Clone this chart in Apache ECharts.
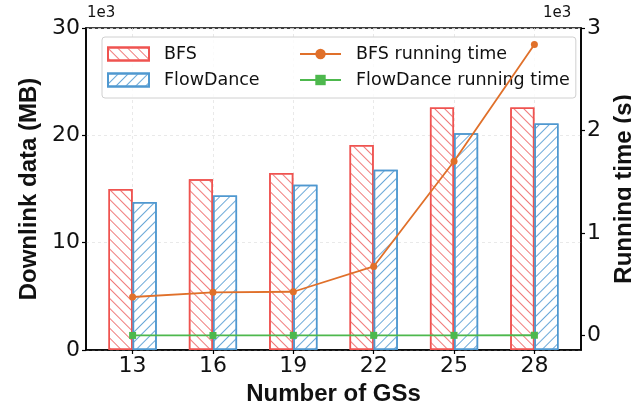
<!DOCTYPE html>
<html>
<head>
<meta charset="utf-8">
<script src="https://cdn.jsdelivr.net/npm/echarts@6/dist/echarts.min.js"></script>
<style>
  html, body { margin: 0; padding: 0; background: #fff; }
  #chart { width: 631px; height: 408px; }
</style>
</head>
<body>
<div id="chart"></div>
<script>
// Number of ground stations on the x axis
const categories = ['13', '16', '19', '22', '25', '28'];
// Downlink data volume (MB)
const bfsData = [15000, 15900, 16500, 19100, 22600, 22600];
const flowDanceData = [13800, 14400, 15400, 16800, 20200, 21100];
// Running time (s)
const bfsTime = [377, 422, 428, 675, 1700, 2840];
const flowDanceTime = [2, 2, 3, 3, 3, 4];
// Tick positions
const leftTicks = [0, 10000, 20000, 30000];
const rightTicks = [0, 1000, 2000, 3000];

const FONT = 'DejaVu Sans';
const TITLE_FONT = '"Liberation Sans", Arial, sans-serif';
const pairs = arr => arr.map((v, i) => [i, v]);
const catIdx = categories.map((_, i) => i);

const chart = echarts.init(document.getElementById('chart'));

const hatch = (color, rot) => ({
  symbol: 'rect',
  symbolSize: 1,
  color: color,
  dashArrayX: [1, 0],
  dashArrayY: [1, 5.2],
  rotation: rot
});

const labelFont = { fontFamily: FONT, fontSize: 22, color: '#111' };
const titleFont = { fontFamily: TITLE_FONT, fontSize: 24, fontWeight: 'bold', color: '#111' };
const axisLineStyle = { show: true, onZero: false, lineStyle: { color: '#000', width: 1.6 } };
const gridLineStyle = { show: true, lineStyle: { color: '#e4e4e4', type: [3, 3], width: 0.8 } };

chart.setOption({
  animation: false,
  backgroundColor: '#fff',
  grid: {
    left: 86, right: 50, top: 28, bottom: 58,
    outerBoundsMode: 'none',
    containLabel: false,
    show: true, borderColor: '#000', borderWidth: 1.6, backgroundColor: 'transparent'
  },
  graphic: [
    { type: 'text', left: 87, top: 6, style: { text: '1e3', font: '15px "DejaVu Sans"', fill: '#111' } },
    { type: 'text', left: 543, top: 6, style: { text: '1e3', font: '15px "DejaVu Sans"', fill: '#111' } }
  ],
  legend: {
    left: 102, top: 37,
    width: 470,
    orient: 'horizontal',
    z: 1,
    padding: [8, 6, 9, 5],
    itemGap: 8,
    itemWidth: 41,
    itemHeight: 13,
    borderColor: '#d0d0d0',
    borderWidth: 1,
    borderRadius: 3,
    backgroundColor: 'rgba(255,255,255,0.8)',
    data: [
      { name: 'BFS', icon: 'rect' },
      { name: 'BFS running time' },
      { name: 'FlowDance', icon: 'rect' },
      { name: 'FlowDance running time' }
    ],
    formatter: name => (name.indexOf('running') >= 0 ? '{b|' + name + '}' : '{a|' + name + '}'),
    textStyle: {
      fontFamily: FONT, fontSize: 17.5, color: '#111',
      rich: {
        a: { fontFamily: FONT, fontSize: 17.5, color: '#111', width: 127, padding: [0, 0, 0, 10], lineHeight: 20 },
        b: { fontFamily: FONT, fontSize: 17.5, color: '#111', padding: [0, 0, 0, 10], lineHeight: 20 }
      }
    }
  },
  xAxis: {
    type: 'value',
    min: -0.58,
    max: 5.58,
    name: 'Number of GSs',
    nameLocation: 'middle',
    nameGap: 30,
    nameTextStyle: titleFont,
    axisLine: axisLineStyle,
    axisTick: { show: true, length: 4, lineStyle: { color: '#000', width: 1.2 }, customValues: catIdx },
    axisLabel: Object.assign({
      customValues: catIdx,
      margin: 5,
      formatter: v => categories[Math.round(v)]
    }, labelFont),
    splitLine: gridLineStyle
  },
  yAxis: [
    {
      type: 'value',
      min: 0, max: 30000, interval: 10000,
      name: 'Downlink data (MB)',
      nameLocation: 'middle',
      nameGap: 43,
      nameTextStyle: titleFont,
      axisLine: axisLineStyle,
      axisTick: { show: true, length: 4, lineStyle: { color: '#000', width: 1.2 }, customValues: leftTicks },
      axisLabel: Object.assign({
        customValues: leftTicks,
        margin: 6,
        formatter: v => String(v / 1000)
      }, labelFont),
      splitLine: gridLineStyle
    },
    {
      type: 'value',
      position: 'right',
      min: -140, max: 3000,
      name: 'Running time (s)',
      nameLocation: 'middle',
      nameGap: 24,
      nameRotate: 90,
      nameTextStyle: titleFont,
      axisLine: axisLineStyle,
      axisTick: { show: true, length: 4, lineStyle: { color: '#000', width: 1.2 }, customValues: rightTicks },
      axisLabel: Object.assign({
        customValues: rightTicks,
        margin: 6,
        formatter: v => String(v / 1000)
      }, labelFont),
      splitLine: { show: false }
    }
  ],
  series: [
    {
      name: 'BFS',
      type: 'bar',
      yAxisIndex: 0,
      barWidth: '30%',
      barGap: '0%',
      z: 1,
      data: pairs(bfsData),
      itemStyle: {
        color: '#ffffff',
        borderColor: '#ef5350',
        borderWidth: 1.5,
        decal: hatch('#f07a7a', Math.PI / 4)
      }
    },
    {
      name: 'FlowDance',
      type: 'bar',
      yAxisIndex: 0,
      barWidth: '30%',
      barGap: '0%',
      z: 1,
      data: pairs(flowDanceData),
      itemStyle: {
        color: '#ffffff',
        borderColor: '#4f98d0',
        borderWidth: 1.5,
        decal: hatch('#6aa8d8', -Math.PI / 4)
      }
    },
    {
      name: 'BFS running time',
      type: 'line',
      yAxisIndex: 1,
      z: 3,
      data: pairs(bfsTime),
      symbol: 'circle',
      symbolSize: 7,
      lineStyle: { color: '#e0702a', width: 1.8 },
      itemStyle: { color: '#e0702a' }
    },
    {
      name: 'FlowDance running time',
      type: 'line',
      yAxisIndex: 1,
      z: 3,
      data: pairs(flowDanceTime),
      symbol: 'rect',
      symbolSize: 7,
      lineStyle: { color: '#4db84d', width: 1.8 },
      itemStyle: { color: '#4db84d' }
    }
  ]
});
</script>
</body>
</html>
